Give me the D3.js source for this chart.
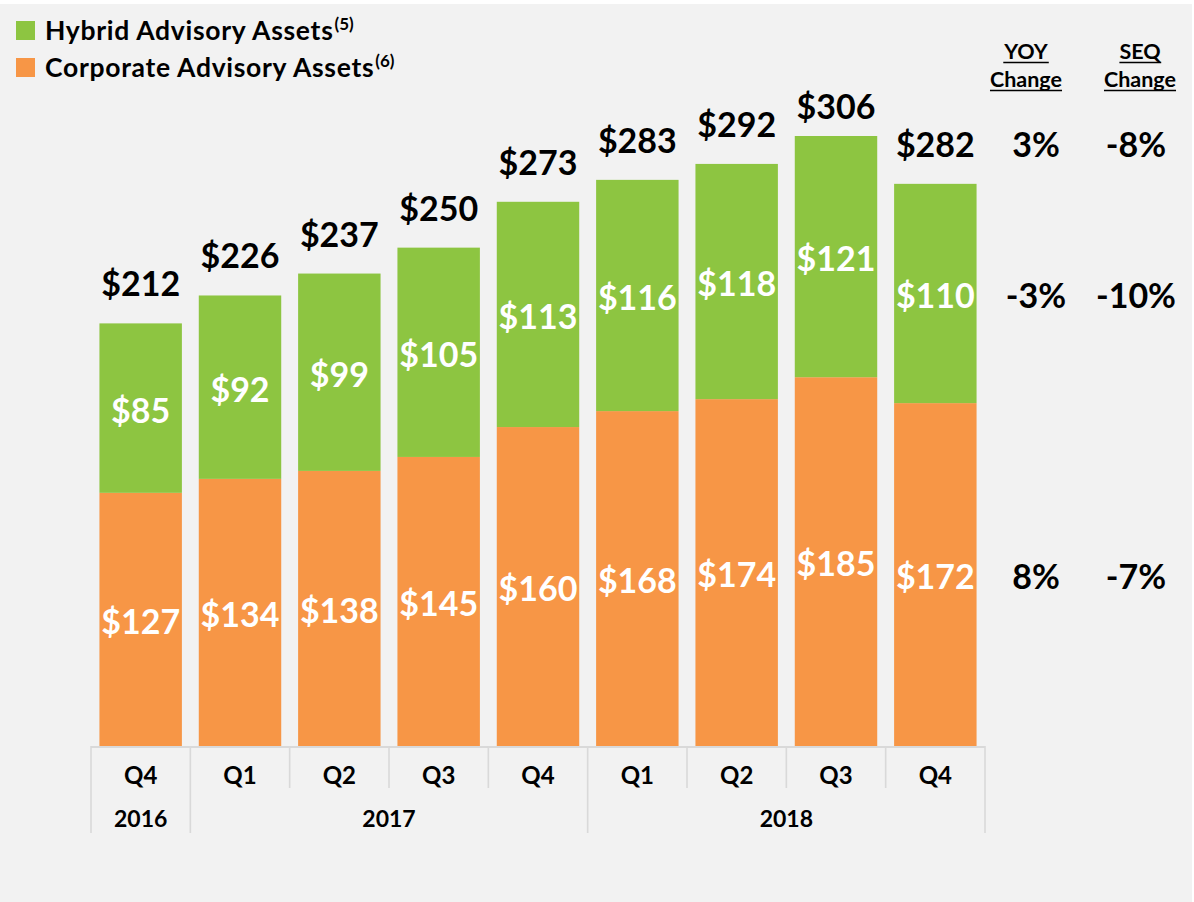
<!DOCTYPE html>
<html>
<head>
<meta charset="utf-8">
<script src="https://cdn.jsdelivr.net/npm/d3@7"></script>
<style>
  html, body { margin: 0; padding: 0; background: #ffffff; }
  svg { display: block; }
  text { font-family: Lato, "Open Sans", sans-serif; font-weight: 700; }
</style>
</head>
<body>
<svg id="chart" width="1194" height="902"></svg>
<script>
// ---- Data ----
const quarters = ["Q4", "Q1", "Q2", "Q3", "Q4", "Q1", "Q2", "Q3", "Q4"];
const years = ["2016", "2017", "2017", "2017", "2017", "2018", "2018", "2018", "2018"];
const hybrid = [85, 92, 99, 105, 113, 116, 118, 121, 110];
const corporate = [127, 134, 138, 145, 160, 168, 174, 185, 172];
const totals = [212, 226, 237, 250, 273, 283, 292, 306, 282];
const seriesNames = ["Hybrid Advisory Assets", "Corporate Advisory Assets"];
const seriesNotes = ["(5)", "(6)"];
const changeHeaders = [["YOY", "Change"], ["SEQ", "Change"]];
const yoyChange = ["3%", "-3%", "8%"];
const seqChange = ["-8%", "-10%", "-7%"];

// ---- Setup ----
const W = 1194, H = 902;
const green = "#8DC541", orange = "#F79646", axisColor = "#D9D9D9";
const svg = d3.select("#chart");

svg.append("rect").attr("x", 0).attr("y", 4).attr("width", W - 2).attr("height", H - 4).attr("fill", "#F2F2F2");

const ids = quarters.map((q, i) => i);
const x = d3.scaleBand().domain(ids).range([91, 985]).paddingInner(0.17).paddingOuter(0.085);
const y = d3.scaleLinear().domain([0, 306]).range([746, 136]);

const rows = ids.map(i => ({ i, corporate: corporate[i], hybrid: hybrid[i] }));
const stack = d3.stack().keys(["corporate", "hybrid"])(rows);
const colors = { corporate: orange, hybrid: green };

const labelSize = 34;
const capOff = labelSize * 0.36 + 2.5;
const totalBaseline = i => Math.max(y(hybrid[i] + corporate[i]) - 27, 119);

// bars
stack.forEach(layer => {
  svg.append("g").selectAll("rect").data(layer).join("rect")
    .attr("x", d => x(d.data.i))
    .attr("width", x.bandwidth())
    .attr("y", d => y(d[1]))
    .attr("height", d => y(d[0]) - y(d[1]))
    .attr("fill", colors[layer.key]);
  // segment labels
  svg.append("g").selectAll("text").data(layer).join("text")
    .attr("x", d => x(d.data.i) + x.bandwidth() / 2)
    .attr("y", d => (y(d[0]) + y(d[1])) / 2 + capOff)
    .attr("text-anchor", "middle")
    .attr("fill", "#FFFFFF")
    .attr("font-size", labelSize)
    .text(d => "$" + d.data[layer.key]);
});

// total labels
svg.append("g").selectAll("text").data(ids).join("text")
  .attr("x", i => x(i) + x.bandwidth() / 2)
  .attr("y", i => totalBaseline(i))
  .attr("text-anchor", "middle")
  .attr("fill", "#000")
  .attr("font-size", labelSize)
  .text(i => "$" + totals[i]);

// ---- Axis ----
const axisG = svg.append("g");
const [x0, x1] = x.range();
const step = x.step();
axisG.append("line").attr("x1", x0).attr("x2", x1).attr("y1", y(0) + 1).attr("y2", y(0) + 1)
  .attr("stroke", axisColor).attr("stroke-width", 2);
const boundaries = d3.range(quarters.length + 1);
axisG.selectAll("line.tick").data(boundaries).join("line").attr("class", "tick")
  .attr("x1", b => x0 + b * step).attr("x2", b => x0 + b * step)
  .attr("y1", y(0))
  .attr("y2", b => (b === 0 || b === quarters.length || years[b] !== years[b - 1]) ? 833 : 788)
  .attr("stroke", axisColor).attr("stroke-width", 1.6);
axisG.selectAll("text.q").data(ids).join("text").attr("class", "q")
  .attr("x", i => x(i) + x.bandwidth() / 2)
  .attr("y", 784)
  .attr("text-anchor", "middle")
  .attr("font-size", 24)
  .attr("fill", "#000")
  .text(i => quarters[i]);
const yearGroups = d3.groups(ids, i => years[i]);
axisG.selectAll("text.yr").data(yearGroups).join("text").attr("class", "yr")
  .attr("x", g => (x0 + g[1][0] * step + x0 + (g[1][g[1].length - 1] + 1) * step) / 2)
  .attr("y", 827)
  .attr("text-anchor", "middle")
  .attr("font-size", 23)
  .attr("fill", "#000")
  .text(g => g[0]);

// ---- Legend ----
const legend = svg.append("g");
[green, orange].forEach((c, k) => {
  const ly = 21 + k * 37;
  legend.append("rect").attr("x", 16).attr("y", ly).attr("width", 19).attr("height", 19).attr("fill", c);
  const t = legend.append("text").attr("x", 45).attr("y", ly + 18.5).attr("font-size", 26.5)
    .attr("letter-spacing", 0.7).attr("fill", "#000");
  t.append("tspan").text(seriesNames[k]);
  t.append("tspan").attr("font-size", 17).attr("letter-spacing", 0).attr("dy", -10).attr("dx", 1).text(seriesNotes[k]);
});

// ---- Change columns ----
const last = ids.length - 1;
const rowY = [
  totalBaseline(last),
  (y(corporate[last]) + y(corporate[last] + hybrid[last])) / 2 + capOff,
  (y(0) + y(corporate[last])) / 2 + capOff
];
const colX = [1036, 1136];
const hdrX = [1026, 1140];
changeHeaders.forEach((h, c) => {
  h.forEach((word, r) => {
    const t = svg.append("text")
      .attr("x", hdrX[c]).attr("y", 59 + r * 28)
      .attr("text-anchor", "middle").attr("font-size", 21.5).attr("fill", "#000")
      .text(word);
    const bb = t.node().getBBox();
    svg.append("line").attr("x1", bb.x).attr("x2", bb.x + bb.width)
      .attr("y1", 59 + r * 28 + 3.5).attr("y2", 59 + r * 28 + 3.5)
      .attr("stroke", "#000").attr("stroke-width", 1.6);
  });
});
[yoyChange, seqChange].forEach((col, c) => {
  svg.append("g").selectAll("text").data(col).join("text")
    .attr("x", colX[c])
    .attr("y", (d, r) => rowY[r])
    .attr("text-anchor", "middle")
    .attr("font-size", labelSize)
    .attr("fill", "#000")
    .text(d => d);
});
</script>
</body>
</html>
